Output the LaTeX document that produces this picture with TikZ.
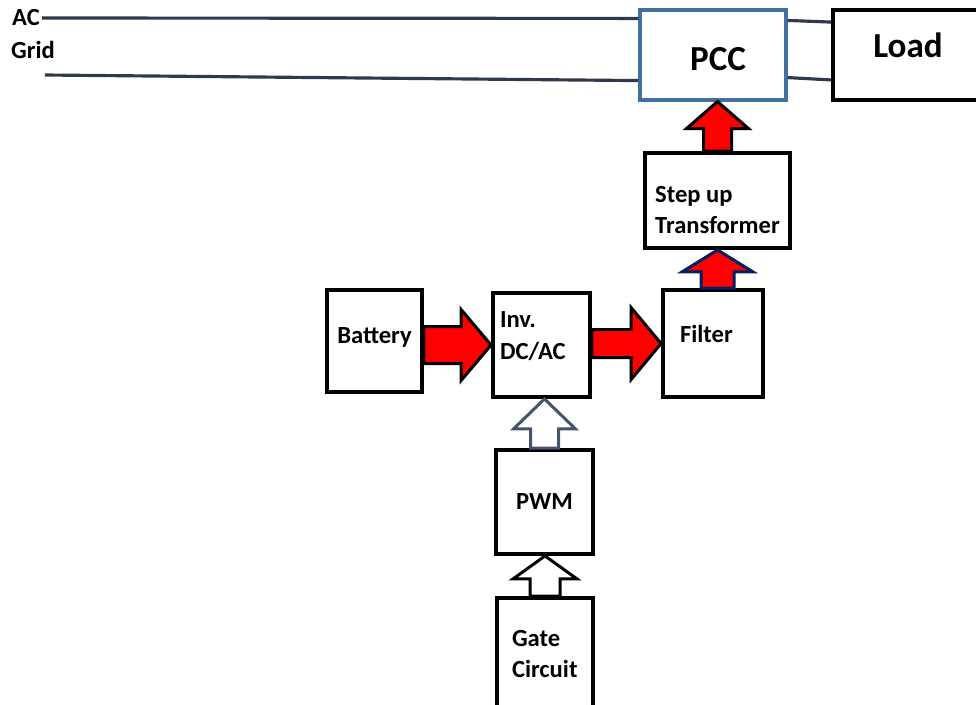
\documentclass[tikz,border=0pt]{standalone}
\usepackage{fontspec}
\setmainfont{Carlito}
\usetikzlibrary{calc}

\definecolor{gridcol}{HTML}{2E3A4C}
\definecolor{pccblue}{HTML}{41719C}
\definecolor{slate}{HTML}{44546A}
\definecolor{navy}{HTML}{002060}

% block arrow pointing up: style, base, tip, half shaft, half head, head length
\newcommand{\vblock}[6]{\draw[#1] ($(#3 |- #2)+(-#4,0)$) -- ($(#3)+(-#4,#6)$) -- ($(#3)+(-#5,#6)$) -- (#3) -- ($(#3)+(#5,#6)$) -- ($(#3)+(#4,#6)$) -- ($(#3 |- #2)+(#4,0)$) -- cycle;}
% block arrow pointing right
\newcommand{\hblock}[6]{\draw[#1] ($(#2 |- #3)+(0,-#4)$) -- ($(#3)+(-#6,-#4)$) -- ($(#3)+(-#6,-#5)$) -- (#3) -- ($(#3)+(-#6,#5)$) -- ($(#3)+(-#6,#4)$) -- ($(#2 |- #3)+(0,#4)$) -- cycle;}

\begin{document}
\begin{tikzpicture}[
    x=0.02cm, y=-0.02cm,
    box/.style={
        draw,
        line width=2.2pt,
        align=left,
        inner sep=2pt,
        font=\bfseries\fontsize{14}{18}\selectfont
    },
    bigbox/.style={box, font=\bfseries\fontsize{20}{24}\selectfont},
    gridline/.style={draw=gridcol, line width=1.8pt},
    power/.style={draw=black, fill=red, line width=1.7pt},
    hollow/.style={draw=black, fill=white, line width=1.7pt}
]
\useasboundingbox (0,0) rectangle (976,704);

\node[bigbox, draw=pccblue, line width=1.8pt, minimum width=2.92cm, minimum height=1.8cm, text height=17.5pt] (pcc) at (713,55) {\hspace*{5.7pt}PCC};
\node[bigbox, minimum width=3cm, minimum height=1.8cm, text depth=11.3pt] (load) at (908,55) {Load};
\node[box, minimum width=2.9cm, minimum height=1.9cm] (step) at (717.5,200.5) {\rule{0pt}{20pt}Step up\\Transformer};
\node[box, minimum width=1.9cm, minimum height=2.04cm, text depth=6.5pt] (bat) at (374.5,341) {Battery};
\node[box, minimum width=1.94cm, minimum height=2.08cm, text width=1.66cm] (inv) at (541.5,345) {Inv.\\DC/AC\rule[-11pt]{0pt}{11pt}};
\node[box, minimum width=2cm, minimum height=2.14cm, text width=1.32cm, text depth=10.8pt] (filt) at (713,343.5) {Filter};
\node[box, minimum width=1.94cm, minimum height=2.08cm] (pwm) at (544.5,502) {PWM};
\node[box, minimum width=1.92cm, minimum height=2.24cm, text width=1.32cm] (gate) at (545,654) {Gate\\Circuit};

% grid side
\node[font=\bfseries\fontsize{14}{16}\selectfont, inner sep=1pt] (ac) at (26,18) {AC};
\node[font=\bfseries\fontsize{14}{16}\selectfont, inner sep=1pt] (grid) at (33,50) {Grid};
\coordinate (gridlow) at (45,75);
\draw[gridline] (ac.east) -- ($(pcc.north west)+(0,10)$);
\draw[gridline] (gridlow) -- ($(pcc.south west)+(0,-21)$);
\draw[gridline] ($(pcc.north east)+(0,12)$) -- ($(load.north west)+(0,14)$);
\draw[gridline] ($(pcc.south east)+(0,-24)$) -- ($(load.south west)+(0,-22)$);

% arrows
\coordinate (pwmtip) at (pwm.north |- inv.south);
\coordinate (gatetip) at (gate.north |- pwm.south);
\coordinate (steptip) at (step.north |- pcc.south);
\hblock{power}{bat.east}{inv.west}{18.5}{35.5}{30}
\hblock{power}{inv.east}{filt.west}{14}{36}{30}
\vblock{power, draw=navy}{filt.north}{step.south}{16.5}{35.5}{22}
\vblock{power}{step.north}{steptip}{14}{31}{27}
\vblock{hollow, draw=slate}{pwm.north}{pwmtip}{14}{31}{30}
\vblock{hollow}{gate.north}{gatetip}{15}{32}{23}

\end{tikzpicture}
\end{document}
